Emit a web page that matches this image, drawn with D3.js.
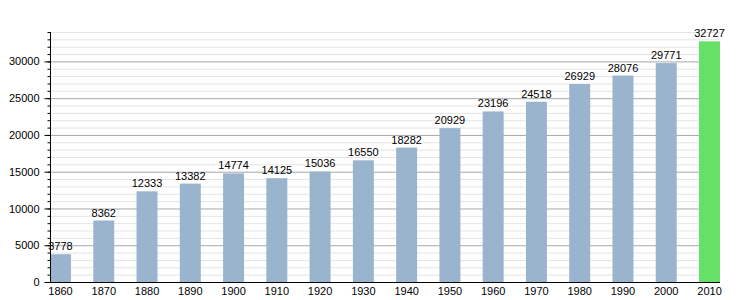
<!DOCTYPE html>
<html><head><meta charset="utf-8">
<script src="https://cdn.jsdelivr.net/npm/d3@7"></script>
<style>body{margin:0;background:#fff}svg{display:block}text{font-family:"Liberation Sans",Arial,sans-serif}</style>
</head><body><svg id="c" width="750" height="300"></svg>
<script>
const years = ["1860","1870","1880","1890","1900","1910","1920","1930","1940","1950","1960","1970","1980","1990","2000","2010"];
const population = [3778,8362,12333,13382,14774,14125,15036,16550,18282,20929,23196,24518,26929,28076,29771,32727];
const yTicks = [0,5000,10000,15000,20000,25000,30000];
const highlightYear = "2010";

(function(){
const svg = d3.select("#c");
const mL = 50, mR = 720, mT = 32, mB = 282;
const x = d3.scaleBand().domain(years).range([mL, mR]).paddingInner(0.515).paddingOuter(0);
const y = d3.scaleLinear().domain([0, 34000]).range([mB, mT]);

const minor = d3.range(0, 34001, 1000);
svg.append("g").selectAll("line").data(minor.filter(v => v % 5000 !== 0)).join("line")
  .attr("x1", mL).attr("x2", mR).attr("y1", d => y(d) + 0.5).attr("y2", d => y(d) + 0.5)
  .attr("stroke", "#e4e4e4").attr("stroke-width", 1);
svg.append("g").selectAll("line").data(yTicks.filter(v => v > 0)).join("line")
  .attr("x1", mL).attr("x2", mR).attr("y1", d => y(d) + 0.5).attr("y2", d => y(d) + 0.5)
  .attr("stroke", "#a8a8a8").attr("stroke-width", 1);

svg.append("g").selectAll("rect").data(years).join("rect")
  .attr("x", d => x(d)).attr("width", x.bandwidth())
  .attr("y", (d, i) => y(population[i])).attr("height", (d, i) => mB - y(population[i]))
  .attr("fill", d => d === highlightYear ? "#66e066" : "#9bb4cd");

svg.append("g").selectAll("text").data(years).join("text")
  .attr("x", d => x(d) + x.bandwidth() / 2).attr("y", (d, i) => y(population[i]) - 4)
  .attr("text-anchor", "middle").attr("font-size", 11).attr("fill", "#000")
  .text((d, i) => population[i]);

const ya = svg.append("g").attr("transform", `translate(${mL + 0.5},0)`);
ya.call(d3.axisLeft(y).tickValues(minor).tickSize(3).tickFormat(""));
ya.select(".domain").remove();
ya.selectAll("line").attr("stroke", "#000");
const yb = svg.append("g").attr("transform", `translate(${mL + 0.5},0)`);
yb.call(d3.axisLeft(y).tickValues(yTicks).tickSize(6).tickPadding(3).tickFormat(d3.format("d")));
yb.select(".domain").remove();
yb.selectAll("line").attr("stroke", "#000");
yb.selectAll("text").attr("font-size", 11).attr("fill", "#000").style("font-family", '"Liberation Sans",Arial,sans-serif').attr("dx", -2);
svg.append("line").attr("x1", mL + 0.5).attr("x2", mL + 0.5).attr("y1", mT).attr("y2", mB).attr("stroke", "#000");

const xa = svg.append("g").attr("transform", `translate(0,${mB + 0.5})`);
xa.call(d3.axisBottom(x).tickSize(0).tickPadding(5));
xa.select(".domain").remove();
xa.selectAll("text").attr("font-size", 11).attr("fill", "#000").style("font-family", '"Liberation Sans",Arial,sans-serif');
svg.append("line").attr("x1", mL).attr("x2", mR).attr("y1", mB + 0.5).attr("y2", mB + 0.5).attr("stroke", "#000");
})();
</script></body></html>
